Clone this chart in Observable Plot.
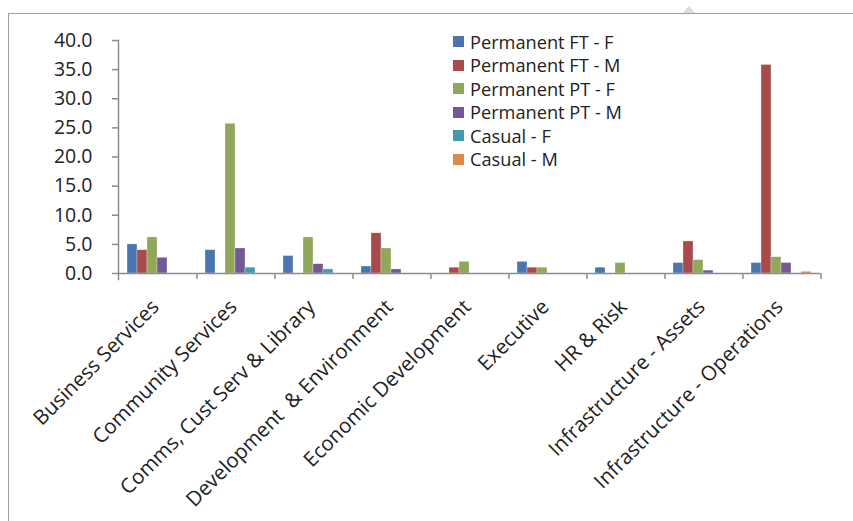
<!DOCTYPE html>
<html>
<head>
<meta charset="utf-8">
<script src="https://cdn.jsdelivr.net/npm/d3@7"></script>
<script src="https://cdn.jsdelivr.net/npm/@observablehq/plot@0.6"></script>
<style>
  body { margin: 0; background: #fff; font-family: "Open Sans", sans-serif; }
  #wrap { position: relative; width: 853px; height: 521px; overflow: hidden; }
  #border { position: absolute; left: 8px; top: 13px; right: -4px; bottom: -4px;
            border-top: 1.5px solid #a0a0a0; border-left: 1.5px solid #a0a0a0; pointer-events: none; }
  #handle { position: absolute; left: 683px; top: 6px; width: 0; height: 0;
            border-left: 6px solid transparent; border-right: 6px solid transparent;
            border-bottom: 7px solid #dcdcdc; }
  #legend { position: absolute; left: 453px; top: 30px; }
  .row { display: flex; align-items: center; height: 23.5px; font-size: 18.2px; color: #222; white-space: nowrap; }
  .sw { width: 11px; height: 11px; margin-right: 6px; flex: none; }
  #chart svg { display: block; }
</style>
</head>
<body>
<div id="wrap">
  <div id="chart"></div>
  <div id="border"></div>
  <div id="handle"></div>
  <div id="legend"></div>
</div>
<script>
// Departments along the x axis
const categories = [
  "Business Services",
  "Community Services",
  "Comms, Cust Serv & Library",
  "Development  & Environment",
  "Economic Development",
  "Executive",
  "HR & Risk",
  "Infrastructure - Assets",
  "Infrastructure - Operations"
];

// Employment types (legend order)
const series = [
  "Permanent FT - F",
  "Permanent FT - M",
  "Permanent PT - F",
  "Permanent PT - M",
  "Casual - F",
  "Casual - M"
];

// Values per employment type, one entry per department
const permanentFtF = [5.0, 4.0, 3.0, 1.2, 0.0, 2.0, 1.0, 1.8, 1.8];
const permanentFtM = [4.0, 0.0, 0.0, 6.9, 1.0, 1.0, 0.0, 5.5, 35.8];
const permanentPtF = [6.2, 25.7, 6.2, 4.3, 2.0, 1.0, 1.8, 2.3, 2.8];
const permanentPtM = [2.7, 4.3, 1.6, 0.7, 0.0, 0.0, 0.0, 0.5, 1.8];
const casualF      = [0.0, 1.0, 0.7, 0.0, 0.0, 0.0, 0.0, 0.0, 0.0];
const casualM      = [0.0, 0.0, 0.0, 0.0, 0.0, 0.0, 0.0, 0.0, 0.3];

const yTicks = [0, 5, 10, 15, 20, 25, 30, 35, 40];

const colors = ["#4A76AD", "#A84B4A", "#91A85A", "#745A94", "#4598AE", "#DA8A4A"];

const seriesValues = [permanentFtF, permanentFtM, permanentPtF, permanentPtM, casualF, casualM];

const data = categories.flatMap((category, i) =>
  series.map((s, j) => ({ category, series: s, value: seriesValues[j][i] }))
).filter(d => d.value > 0);

const W = 853, H = 521;
const mL = 114, mR = 29, mT = 40, mB = 248;
const step = (W - mL - mR) / categories.length;
const axisGray = "#8c8c8c";

const chart = Plot.plot({
  width: W,
  height: H,
  marginLeft: mL,
  marginRight: mR,
  marginTop: mT,
  marginBottom: mB,
  style: { fontFamily: "'Open Sans', sans-serif", fontSize: "18px", color: "#222", background: "transparent" },
  fx: { domain: categories, padding: 0, label: null },
  x: { domain: series, paddingInner: 0, paddingOuter: 0.69, axis: null },
  y: { domain: [0, 40], label: null },
  color: { domain: series, range: colors },
  marks: [
    Plot.barY(data, {
      fx: "category", x: "series", y: "value", fill: "series",
      stroke: "white", strokeWidth: 0.5, strokeOpacity: 0.6
    }),
    Plot.ruleY([0], { stroke: axisGray, strokeWidth: 1.5 }),
    Plot.frame({ anchor: "left", facetAnchor: "left", stroke: axisGray, strokeWidth: 1.5, insetBottom: -6 }),
    Plot.axisY({
      ticks: yTicks, tickFormat: d3.format(".1f"), tickSize: 6, tickPadding: 20,
      stroke: axisGray, strokeWidth: 1.5, label: null, fontSize: 19.5
    }),
    // category boundary ticks
    Plot.axisFx({
      anchor: "bottom", tickSize: 6, tickFormat: () => "", dx: step / 2,
      stroke: axisGray, strokeWidth: 1.5, label: null
    }),
    // rotated category labels
    Plot.axisFx({
      anchor: "bottom", tickSize: 0, tickRotate: -45, tickPadding: 30, dx: -2,
      label: null, fontSize: 20.5
    })
  ]
});

document.getElementById("chart").append(chart);

const legend = document.getElementById("legend");
series.forEach((s, i) => {
  const row = document.createElement("div");
  row.className = "row";
  const sw = document.createElement("span");
  sw.className = "sw";
  sw.style.background = colors[i];
  const label = document.createElement("span");
  label.textContent = s;
  row.append(sw, label);
  legend.append(row);
});
</script>
</body>
</html>
